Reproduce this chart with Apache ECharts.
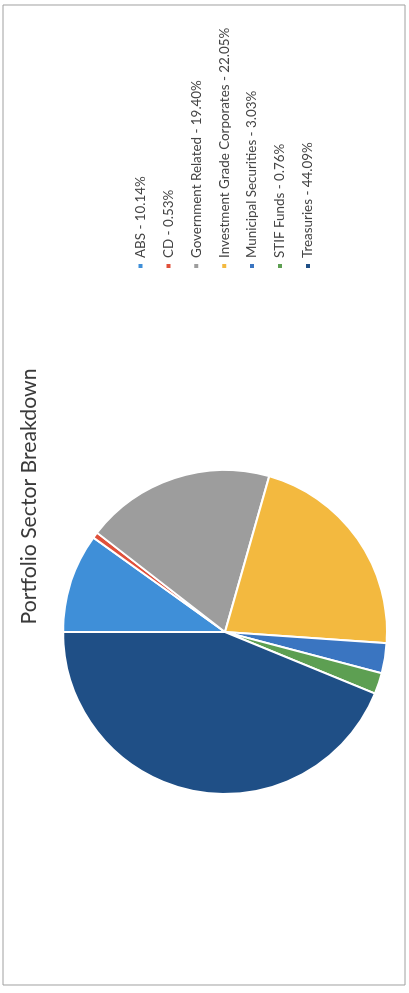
<!DOCTYPE html>
<html>
<head>
<meta charset="utf-8">
<script src="https://cdn.jsdelivr.net/npm/echarts@6.0.0/dist/echarts.min.js"></script>
<style>
  html, body { margin: 0; padding: 0; width: 409px; height: 993px; overflow: hidden; background: #fff; }
  /* the scanned page is turned a quarter to the left, so the chart is drawn landscape and rotated */
  #main { position: absolute; left: 0; top: 0; width: 993px; height: 409px;
          transform-origin: 0 0; transform: translateY(993px) rotate(-90deg); }
</style>
</head>
<body>
<div id="main"></div>
<script>
var sectors = ['ABS', 'CD', 'Government Related', 'Investment Grade Corporates',
               'Municipal Securities', 'STIF Funds', 'Treasuries'];
// percentages printed in the legend
var printedPct = ['10.14', '0.53', '19.40', '22.05', '3.03', '0.76', '44.09'];
// slice sizes
var sliceValues = [9.9, 0.6, 18.9, 21.7, 3.0, 2.1, 43.8];
var colors = ['#3f8fd8', '#e0503a', '#9d9d9d', '#f3b93f', '#3a75c1', '#5d9f52', '#1f4f86'];

var myChart = echarts.init(document.getElementById('main'));

var pieData = [];
for (var i = 0; i < sectors.length; i++) {
  pieData.push({ name: sectors[i], value: sliceValues[i] });
}

var option = {
  animation: false,
  color: colors,
  graphic: [{
    type: 'rect',
    shape: { x: 8, y: 3, width: 980, height: 402 },
    style: { fill: 'none', stroke: '#a0a0a0', lineWidth: 1 }
  }],
  title: {
    text: 'Portfolio Sector Breakdown',
    left: 'center',
    top: 14,
    textStyle: {
      fontFamily: 'Lato',
      fontSize: 21.2,
      fontWeight: 'normal',
      color: '#3a3a3a'
    }
  },
  legend: {
    orient: 'vertical',
    left: 718,
    top: 129,
    icon: 'rect',
    itemWidth: 6,
    itemHeight: 6,
    itemGap: 14.9,
    data: sectors,
    formatter: function (name) {
      return name + ' - ' + printedPct[sectors.indexOf(name)] + '%';
    },
    textStyle: {
      fontFamily: 'Lato',
      fontSize: 13.4,
      color: '#444'
    }
  },
  series: [{
    type: 'pie',
    center: [361, 225],
    radius: 162,
    startAngle: 90,
    clockwise: true,
    label: { show: false },
    labelLine: { show: false },
    itemStyle: {
      borderColor: '#fff',
      borderWidth: 2
    },
    data: pieData
  }]
};

myChart.setOption(option);
</script>
</body>
</html>
